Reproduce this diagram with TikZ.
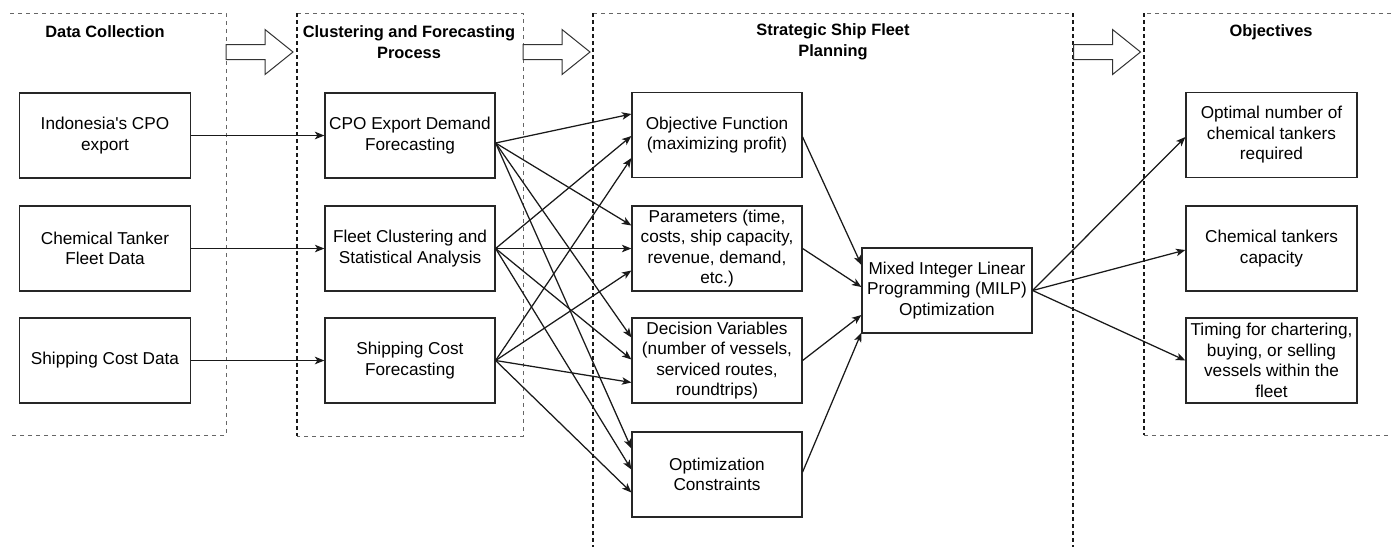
\documentclass[tikz,border=0pt]{standalone}
\usepackage{fontspec}
\setmainfont[Ligatures=TeXOff]{Liberation Sans}
\usetikzlibrary{arrows.meta,calc}
\begin{document}
\begin{tikzpicture}[x=1pt,y=-1pt,
  box/.style={draw=black!85, line width=1.2pt, fill=white, minimum width=171pt, minimum height=85pt, align=center, inner sep=1pt, font=\fontsize{17.2}{20.5}\selectfont},
  ttl/.style={align=center, font=\fontsize{16.4}{20.5}\selectfont\bfseries},
  conn/.style={line width=1.25pt, draw=black!90, -{Stealth[length=9.5pt,width=7.5pt,inset=2.5pt]}},
  dashthin/.style={draw=black!60, line width=0.9pt, dash pattern=on 4pt off 4pt},
  dashbold/.style={draw=black!90, line width=1.3pt, dash pattern=on 4pt off 3pt},
  fatarrow/.style={draw=black!80, line width=1pt, fill=white},
  fat/.pic={\draw[fatarrow] (0,-7.5) -- (39,-7.5) -- (39,-22.5) -- (67,0) -- (39,22.5) -- (39,7.5) -- (0,7.5) -- cycle;}
]
\useasboundingbox (0,0) rectangle (1391,547);
\fill[white] (0,0) rectangle (1391,547);

% containers
\draw[dashthin] (10,13) -- (226,13) -- (226,435) -- (10,435);
\draw[dashthin] (297,13) -- (523,13) -- (523,436) -- (297,436);
\draw[dashbold] (297,13) -- (297,436);
\draw[dashthin] (593,13) -- (1073,13);
\draw[dashbold] (593,13) -- (593,547);
\draw[dashbold] (1073,13) -- (1073,547);
\draw[dashthin] (1391,13) -- (1144,13);
\draw[dashthin] (1144,435) -- (1391,435);
\draw[dashbold] (1144,13) -- (1144,435);

% container titles
\node[ttl] (t1) at (105,32) {Data Collection};
\node[ttl] (t2) at (409,42) {Clustering and Forecasting\\Process};
\node[ttl] (t3) at (833,42) {Strategic Ship Fleet\\Planning};
\node[ttl] (t4) at (1271,32) {Objectives};

% fat arrows
\pic at (226,52) {fat};
\pic at (523,52) {fat};
\pic at (1073.5,52) {fat};

% boxes
\node[box] (ind) at (105,135.5) {Indonesia's CPO\\export};
\node[box] (chem) at (105,248.5) {Chemical Tanker\\Fleet Data};
\node[box] (shipd) at (105,360.5) {Shipping Cost Data};

\node[box, minimum width=170pt] (cpo) at (410,135.5) {CPO Export Demand\\Forecasting};
\node[box, minimum width=170pt] (fleet) at (410,248.5) {Fleet Clustering and\\Statistical Analysis};
\node[box, minimum width=170pt] (shipf) at (410,360.5) {Shipping Cost\\Forecasting};

\node[box, minimum width=170pt] (obj) at (717,135) {Objective Function\\(maximizing profit)};
\node[box, minimum width=170pt] (par) at (717,248.5) {Parameters (time,\\costs, ship capacity,\\revenue, demand,\\etc.)};
\node[box, minimum width=170pt] (dec) at (717,360.5) {Decision Variables\\(number of vessels,\\serviced routes,\\roundtrips)};
\node[box, minimum width=170pt] (opt) at (717,474.5) {Optimization\\Constraints};

\node[box, minimum width=170pt] (milp) at (947,290.5) {Mixed Integer Linear\\Programming (MILP)\\Optimization};

\node[box] (o1) at (1271.5,135) {Optimal number of\\chemical tankers\\required};
\node[box] (o2) at (1271.5,248.5) {Chemical tankers\\capacity};
\node[box] (o3) at (1271.5,360.5) {Timing for chartering,\\buying, or selling\\vessels within the\\fleet};

% left connectors
\draw[conn, line width=1.9pt] (ind.east) -- (cpo.west);
\draw[conn] (chem.east) -- (fleet.west);
\draw[conn, line width=1.6pt] (shipd.east) -- (shipf.west);

\coordinate (cpoS) at ([yshift=-7.5pt]cpo.east);

% fan-out to strategic components
\draw[conn] (cpoS) -- ([yshift=21pt]obj.west);
\draw[conn] (fleet.east) -- ([yshift=-1pt]obj.west);
\draw[conn] (shipf.east) -- ([yshift=-23pt]obj.west);
\draw[conn] (cpoS) -- ([yshift=23pt]par.west);
\draw[conn] (fleet.east) -- (par.west);
\draw[conn] (shipf.east) -- ([yshift=-22pt]par.west);
\draw[conn] (cpoS) -- ([yshift=23pt]dec.west);
\draw[conn] (fleet.east) -- ([yshift=1pt]dec.west);
\draw[conn] (shipf.east) -- ([yshift=-22pt]dec.west);
\draw[conn] (cpoS) -- ([yshift=26pt]opt.west);
\draw[conn] (fleet.east) -- ([yshift=5pt]opt.west);
\draw[conn] (shipf.east) -- ([yshift=-18pt]opt.west);

% into MILP
\draw[conn] ([yshift=-2pt]obj.east) -- ([yshift=25.5pt]milp.west);
\draw[conn] (par.east) -- ([yshift=3.5pt]milp.west);
\draw[conn] (dec.east) -- ([yshift=-24.5pt]milp.west);
\draw[conn] ([yshift=2.5pt]opt.east) -- ([yshift=1pt]milp.south west);

% outputs
\draw[conn] (milp.east) -- ([yshift=-2pt]o1.west);
\draw[conn] (milp.east) -- ([yshift=-1.5pt]o2.west);
\draw[conn] (milp.east) -- (o3.west);
\end{tikzpicture}
\end{document}
